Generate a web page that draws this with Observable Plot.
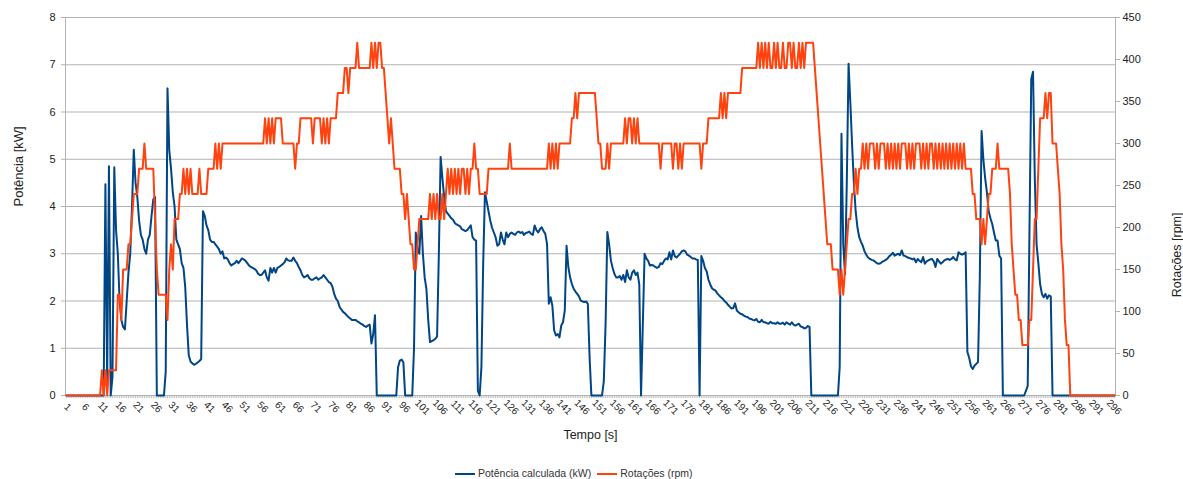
<!DOCTYPE html>
<html><head><meta charset="utf-8">
<script src="https://cdn.jsdelivr.net/npm/d3@7"></script>
<script src="https://cdn.jsdelivr.net/npm/@observablehq/plot@0.6"></script>
<style>
body{margin:0;background:#fff;font-family:"Liberation Sans",Arial,sans-serif;}
#wrap{position:relative;width:1183px;height:479px;overflow:hidden;}
#legend{position:absolute;left:455px;top:467px;font-size:10.5px;color:#333;white-space:nowrap;line-height:12px;}
#legend .sw{display:inline-block;width:20px;height:2px;vertical-align:middle;margin-right:3px;}
#legend .item{display:inline-block;margin-right:6px;}
</style></head><body>
<div id="wrap"><div id="chart"></div>
<div id="legend"><span class="item"><span class="sw" style="background:#004586"></span>Potência calculada (kW)</span><span class="item"><span class="sw" style="background:#ff420e"></span>Rotações (rpm)</span></div>
</div>
<script>
// Potência calculada (kW), two samples per second
const potencia = [
0,0,0,0,0,0,0,0,0,0,
0,0,0,0,0,0,0,0,0,0,
0,0,4.47,0.3,4.85,0,0.4,4.83,3.5,3.0,
2.0,1.6,1.45,1.4,2.0,2.6,3.0,4.0,5.2,4.5,
4.2,3.7,3.4,3.3,3.1,3.0,3.3,3.4,3.8,4.15,
4.2,0,0,0,0,0,0.5,6.5,5.2,4.8,
4.3,4.0,3.3,3.2,3.1,2.8,2.7,2.3,1.5,0.85,
0.72,0.68,0.65,0.67,0.7,0.73,0.77,3.9,3.8,3.6,
3.5,3.3,3.25,3.25,3.2,3.15,3.1,3.0,3.05,2.9,
2.92,2.88,2.8,2.75,2.78,2.8,2.85,2.8,2.85,2.9,
2.88,2.85,2.8,2.75,2.72,2.7,2.68,2.65,2.58,2.55,
2.55,2.6,2.65,2.5,2.43,2.7,2.6,2.7,2.6,2.7,
2.72,2.75,2.78,2.82,2.9,2.86,2.85,2.85,2.92,2.85,
2.8,2.72,2.65,2.55,2.5,2.52,2.55,2.48,2.45,2.45,
2.48,2.5,2.45,2.48,2.5,2.55,2.5,2.45,2.4,2.38,
2.3,2.15,2.05,2.0,1.88,1.82,1.77,1.74,1.7,1.66,
1.63,1.6,1.6,1.6,1.57,1.55,1.52,1.5,1.47,1.45,
1.48,1.5,1.1,1.3,1.7,0,0,0,0,0,
0,0,0,0,0,0,0,0.6,0.74,0.76,
0.7,0,0,0,0,0,1.0,3.45,3.1,3.0,
3.8,3.0,2.5,2.25,1.6,1.13,1.15,1.17,1.2,1.25,
3.0,5.05,4.6,4.2,3.9,3.85,3.8,3.75,3.72,3.65,
3.62,3.6,3.58,3.52,3.5,3.48,3.5,3.55,3.6,3.35,
3.3,3.28,0.1,0,0.6,2.8,4.3,4.1,3.9,3.7,
3.55,3.45,3.35,3.17,3.2,3.45,3.3,3.2,3.45,3.35,
3.42,3.45,3.42,3.4,3.45,3.47,3.44,3.46,3.4,3.44,
3.45,3.47,3.42,3.4,3.6,3.5,3.45,3.52,3.56,3.48,
3.42,3.21,1.94,2.08,1.9,1.38,1.27,1.3,1.23,1.48,
1.55,1.8,3.17,2.72,2.5,2.36,2.26,2.2,2.15,2.1,
2.01,1.99,1.98,1.99,1.94,0.8,0,0,0,0,
0,0,0,0.3,1.5,3.46,3.2,2.86,2.7,2.57,
2.5,2.5,2.53,2.45,2.55,2.4,2.65,2.5,2.45,2.6,
2.65,2.55,2.6,2.35,0,1.5,3.0,2.9,2.85,2.75,
2.76,2.75,2.72,2.7,2.72,2.8,2.78,2.85,2.9,2.88,
3.03,2.88,3.07,2.95,2.92,2.96,3.0,3.05,3.07,3.05,
2.98,2.96,2.93,2.9,2.9,2.88,2.87,0,2.95,2.85,
2.7,2.63,2.45,2.35,2.27,2.24,2.22,2.16,2.12,2.08,
2.05,2.0,1.97,1.92,1.88,1.84,1.85,1.95,1.8,1.76,
1.73,1.72,1.69,1.67,1.66,1.63,1.62,1.6,1.59,1.62,
1.56,1.55,1.6,1.55,1.55,1.53,1.52,1.56,1.53,1.53,
1.52,1.55,1.52,1.52,1.54,1.5,1.55,1.52,1.5,1.55,
1.5,1.48,1.5,1.52,1.46,1.45,1.42,1.43,1.47,1.45,
0,0,0,0,0,0,0,0,0,0,
0,0,0,0,0,0,0.6,5.54,3.2,2.57,
4.5,7.02,6.2,5.3,4.5,3.9,3.56,3.35,3.25,3.17,
3.05,2.98,2.92,2.89,2.87,2.86,2.83,2.8,2.79,2.8,
2.83,2.85,2.87,2.9,2.95,2.98,3.02,2.96,2.98,3.0,
2.97,3.07,2.96,2.95,2.93,2.91,2.9,2.88,2.9,2.82,
2.89,2.85,2.82,2.93,2.79,2.84,2.86,2.88,2.89,2.84,
2.72,2.89,2.84,2.79,2.82,2.86,2.88,2.89,2.87,2.89,
2.93,2.88,2.86,3.03,3.0,2.98,3.0,3.03,0.92,0.8,
0.62,0.56,0.63,0.67,0.71,2.5,5.6,5.0,4.6,4.3,
3.9,3.75,3.63,3.45,3.28,3.28,2.96,2.9,0,0,
0,0,0,0,0,0,0,0,0,0,
0,0.1,0.2,3.5,6.7,6.85,4.6,3.2,2.8,2.36,
2.15,2.08,2.15,2.05,2.12,2.1,0,0,0,0,
0,0,0,0,0,0,0,0,0,0,
0,0,0,0,0,0,0,0,0,0,
0,0,0,0,0,0,0,0,0,0,
0,0
];

// Rotações (rpm), two samples per second
const rotacoes = [
0,0,0,0,0,0,0,0,0,0,
0,0,0,0,0,0,0,0,0,0,
30,0,30,0,30,30,30,30,30,120,
120,90,150,150,150,180,180,210,240,240,
240,270,270,270,300,270,270,270,270,270,
210,150,120,120,120,120,120,90,150,180,
150,210,210,210,240,240,270,240,270,240,
270,240,240,240,240,270,240,240,240,240,
270,270,270,270,300,270,300,270,300,300,
300,300,300,300,300,300,300,300,300,300,
300,300,300,300,300,300,300,300,300,300,
300,300,330,300,330,300,330,300,330,330,
330,330,300,300,300,300,300,300,300,270,
300,300,330,330,330,330,330,330,330,300,
330,330,330,330,300,330,300,330,300,330,
330,330,330,360,360,360,360,390,390,360,
390,390,390,390,420,390,390,390,390,390,
390,390,420,390,420,390,420,420,390,390,
360,330,300,330,300,270,270,270,270,240,
240,210,240,210,180,180,150,150,180,210,
210,210,210,210,210,240,210,240,210,240,
210,210,240,210,240,270,240,270,240,270,
240,270,240,270,270,240,270,240,270,270,
300,270,270,240,240,240,240,240,270,270,
270,270,270,270,270,270,270,270,270,270,
300,270,270,270,270,270,270,270,270,270,
270,270,270,270,270,270,270,270,270,270,
270,270,300,270,300,270,300,270,300,300,
300,300,300,300,300,330,330,360,330,360,
360,360,360,360,360,360,360,360,360,330,
300,300,270,270,270,300,270,300,300,300,
300,300,300,300,300,330,300,330,330,300,
330,300,330,300,300,300,300,300,300,300,
300,300,300,300,300,270,300,300,300,300,
300,300,270,300,300,270,300,270,300,300,
300,300,300,300,300,300,300,300,270,300,
300,300,330,330,330,330,330,330,330,360,
330,360,330,360,360,360,360,360,360,360,
360,390,390,390,390,390,390,390,390,390,
420,390,420,390,420,390,420,390,390,420,
390,420,390,390,420,390,390,420,420,390,
420,390,390,420,390,420,390,420,420,420,
420,420,390,360,330,300,270,240,210,180,
180,180,150,150,150,150,120,150,120,150,
180,210,210,240,240,270,240,270,270,300,
270,300,270,300,300,300,270,300,270,300,
300,300,270,300,270,300,270,300,270,300,
270,300,300,300,270,300,270,300,270,300,
300,300,270,300,270,300,270,300,300,270,
300,270,300,270,300,270,300,270,300,270,
300,270,300,270,300,270,300,270,270,270,
270,240,240,210,210,210,180,210,180,210,
240,240,270,270,270,300,270,270,270,270,
270,270,240,180,150,120,120,90,90,60,
60,60,60,90,90,150,210,210,270,330,
330,330,360,330,360,360,300,300,300,270,
240,180,150,90,60,60,0,0,0,0,
0,0,0,0,0,0,0,0,0,0,
0,0,0,0,0,0,0,0,0,0,
0,0
];

// Category labels on the time axis (s)
const tempoLabels = [1,6,11,16,21,26,31,36,41,46,51,56,61,66,71,76,81,86,91,96,
101,106,111,116,121,126,131,136,141,146,151,156,161,166,171,176,181,186,191,196,
201,206,211,216,221,226,231,236,241,246,251,256,261,266,271,276,281,286,291,296];
const kwTicks = [0,1,2,3,4,5,6,7,8];
const rpmTicks = [0,50,100,150,200,250,300,350,400,450];

const N = potencia.length;
const rows = potencia.map((v, i) => ({k: i + 1, kw: v, rpm: rotacoes[i]}));
const toKw = r => r * 8 / 450;
const labelPos = tempoLabels.map(t => (t - 1) * 2 + 1);
const allK = rows.map(d => d.k);

const grid = "#b3b3b3";
const txt = "#222";

const chart = Plot.plot({
  width: 1183,
  height: 455,
  marginLeft: 65,
  marginRight: 68,
  marginTop: 17,
  marginBottom: 60,
  style: {fontFamily: "Liberation Sans, Arial, sans-serif", fontSize: "11px", color: txt, background: "#fff"},
  x: {type: "linear", domain: [0.5, N + 0.5], axis: null},
  y: {domain: [0, 8], axis: null},
  marks: [
    Plot.ruleY(kwTicks, {stroke: grid, strokeWidth: 1}),
    Plot.ruleX([0.5, N + 0.5], {stroke: grid, strokeWidth: 1}),
    Plot.ruleX(allK, {x: d => d, y1: 0, y2: -0.065, stroke: grid, strokeWidth: 0.8}),
    Plot.axisY({anchor: "left", ticks: kwTicks, tickSize: 4, tickPadding: 6, stroke: grid, label: null, fill: txt, fontSize: 11}),
    Plot.axisY({anchor: "right", ticks: rpmTicks.map(toKw), tickFormat: v => String(Math.round(v * 450 / 8)), tickSize: 4, tickPadding: 3, stroke: grid, label: null, fill: txt, fontSize: 11}),
    Plot.text(labelPos, {x: d => d, frameAnchor: "bottom", dy: 14, dx: -1, text: (d, i) => String(tempoLabels[i]), rotate: 45, textAnchor: "middle", fontSize: 10, fill: txt}),
    Plot.line(rows, {x: "k", y: "kw", stroke: "#004586", strokeWidth: 2, strokeLinejoin: "round"}),
    Plot.line(rows, {x: "k", y: d => toKw(d.rpm), stroke: "#ff420e", strokeWidth: 2, strokeLinejoin: "round"}),
    Plot.text(["Potência [kW]"], {text: d => d, frameAnchor: "left", dx: -47, rotate: -90, fontSize: 13, fill: txt}),
    Plot.text(["Rotações [rpm]"], {text: d => d, frameAnchor: "right", dx: 61, dy: 6, rotate: -90, fontSize: 12.5, fill: txt}),
    Plot.text(["Tempo [s]"], {text: d => d, frameAnchor: "bottom", dy: 43, dx: 0, fontSize: 12.5, fill: txt})
  ]
});
document.getElementById("chart").appendChild(chart);
</script>
</body></html>
